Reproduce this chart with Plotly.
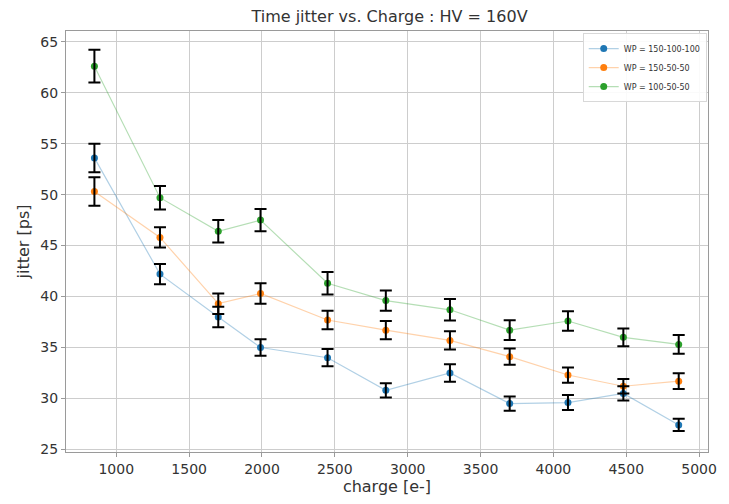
import plotly.graph_objects as go

# Time jitter measurements per collected charge, for three WP configurations
charge = [850, 1300, 1700, 1990, 2450, 2850, 3290, 3700, 4100, 4480, 4860]

labels = ["WP = 150-100-100", "WP = 150-50-50", "WP = 100-50-50"]
colors = ["#1f77b4", "#ff7f0e", "#2ca02c"]
line_colors = ["rgba(31,119,180,0.35)", "rgba(255,127,14,0.35)", "rgba(44,160,44,0.35)"]

jitter_150_100_100 = [53.6, 42.2, 38.0, 35.0, 34.0, 30.8, 32.5, 29.5, 29.6, 30.5, 27.4]
err_150_100_100 = [1.4, 1.0, 1.0, 0.8, 0.85, 0.7, 0.85, 0.7, 0.73, 0.7, 0.6]

jitter_150_50_50 = [50.3, 45.8, 39.3, 40.3, 37.7, 36.7, 35.7, 34.1, 32.3, 31.2, 31.7]
err_150_50_50 = [1.4, 1.0, 1.0, 1.0, 0.9, 0.9, 0.9, 0.8, 0.75, 0.7, 0.78]

jitter_100_50_50 = [62.6, 49.7, 46.4, 47.5, 41.3, 39.6, 38.7, 36.7, 37.6, 36.0, 35.3]
err_100_50_50 = [1.6, 1.15, 1.1, 1.1, 1.1, 1.0, 1.05, 0.97, 0.95, 0.87, 0.92]

series = [
    (jitter_150_100_100, err_150_100_100),
    (jitter_150_50_50, err_150_50_50),
    (jitter_100_50_50, err_100_50_50),
]

fig = go.Figure()

# faint connecting lines with solid markers
for (vals, _), name, col, lcol in zip(series, labels, colors, line_colors):
    fig.add_trace(go.Scatter(
        x=charge, y=vals, name=name, mode="lines+markers",
        line=dict(color=lcol, width=1.2),
        marker=dict(color=col, size=7),
    ))

# black error bars drawn over the markers
for vals, errs in series:
    fig.add_trace(go.Scatter(
        x=charge, y=vals, mode="markers", showlegend=False, hoverinfo="skip",
        marker=dict(size=7, opacity=0),
        error_y=dict(type="data", array=errs, visible=True,
                     color="black", thickness=2, width=6),
    ))

axis_common = dict(
    showgrid=True, gridcolor="#cdcdcd", gridwidth=1,
    showline=True, linecolor="#9a9a9a", linewidth=1, mirror=True,
    ticks="outside", ticklen=4, tickcolor="#9a9a9a",
    tickfont=dict(family="DejaVu Sans", size=14, color="#333"),
    zeroline=False,
)

fig.update_layout(
    width=729, height=504,
    margin=dict(l=66, r=16, t=31, b=48),
    paper_bgcolor="white", plot_bgcolor="white",
    title=dict(text="Time jitter vs. Charge : HV = 160V",
               x=(66 + 713) / 2 / 729, xanchor="center",
               y=1 - 16 / 504, yanchor="middle",
               font=dict(family="DejaVu Sans", size=16, color="#333")),
    xaxis=dict(axis_common, range=[655, 5061],
               tickvals=[1000, 1500, 2000, 2500, 3000, 3500, 4000, 4500, 5000],
               title=dict(text="charge [e-]", standoff=4,
                          font=dict(family="DejaVu Sans", size=16, color="#333"))),
    yaxis=dict(axis_common, range=[24.75, 66.05],
               tickvals=[25, 30, 35, 40, 45, 50, 55, 60, 65],
               title=dict(text="jitter [ps]", standoff=6,
                          font=dict(family="DejaVu Sans", size=16, color="#333"))),
    legend=dict(x=0.998, y=0.995, xanchor="right", yanchor="top",
                bgcolor="rgba(255,255,255,0.9)", bordercolor="#d8d8d8", borderwidth=1,
                font=dict(family="DejaVu Sans", size=8, color="#333"),
                itemwidth=30, tracegroupgap=0),
)

fig.write_html("out.html")
